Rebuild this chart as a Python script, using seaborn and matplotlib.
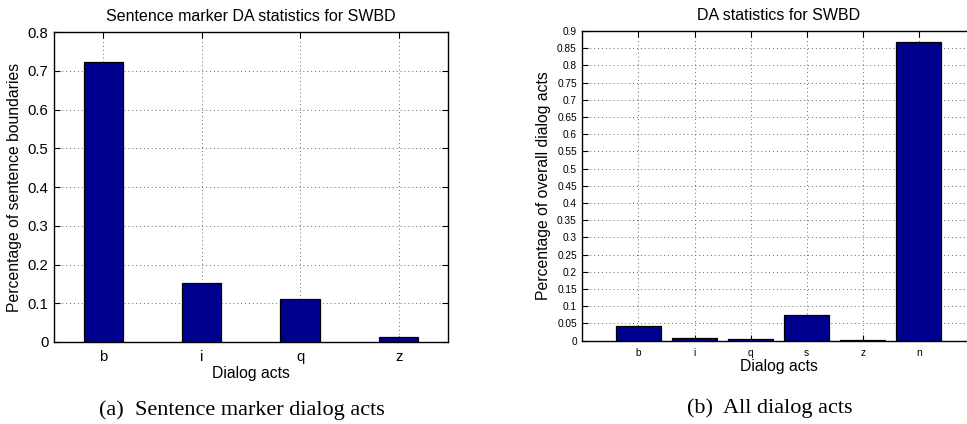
import matplotlib
matplotlib.use("Agg")
import matplotlib.pyplot as plt
import seaborn as sns
import pandas as pd
from matplotlib.ticker import FuncFormatter, MultipleLocator

# Sentence-marker dialog acts (share of sentence boundaries)
marker_acts = ["b", "i", "q", "z"]
marker_share = [0.723, 0.152, 0.110, 0.014]

# All dialog acts (share of overall dialog acts)
all_acts = ["b", "i", "q", "s", "z", "n"]
all_share = [0.043, 0.009, 0.006, 0.076, 0.001, 0.867]

BAR_COLOR = "#00008F"

sns.set_theme(style="white")
plt.rcParams["font.family"] = ["Liberation Sans", "DejaVu Sans"]
plt.rcParams["text.color"] = "black"
plt.rcParams["axes.labelcolor"] = "black"
plt.rcParams["xtick.color"] = "black"
plt.rcParams["ytick.color"] = "black"

fig = plt.figure(figsize=(9.67, 4.24), dpi=100)
ax1 = fig.add_axes([0.0558, 0.1934, 0.4074, 0.7311])
ax2 = fig.add_axes([0.6022, 0.1965, 0.4061, 0.7304])

df1 = pd.DataFrame({"act": marker_acts, "share": marker_share})
df2 = pd.DataFrame({"act": all_acts, "share": all_share})

sns.barplot(data=df1, x="act", y="share", order=marker_acts, color=BAR_COLOR,
            saturation=1, width=0.4, edgecolor="black", linewidth=0.9, ax=ax1, zorder=3)
sns.barplot(data=df2, x="act", y="share", order=all_acts, color=BAR_COLOR,
            saturation=1, width=0.8, edgecolor="black", linewidth=0.9, ax=ax2, zorder=3)

fmt = FuncFormatter(lambda v, _: f"{round(v, 4):g}")


def style(ax, xlim, ymax, ystep, tick_size, title, ylabel):
    ax.set_xlim(*xlim)
    ax.set_ylim(0, ymax)
    ax.yaxis.set_major_locator(MultipleLocator(ystep))
    ax.yaxis.set_major_formatter(fmt)
    ax.grid(True, which="major", color="#666666", linestyle=(0, (1, 3)),
            linewidth=0.7, zorder=0)
    ax.set_axisbelow(True)
    for s in ax.spines.values():
        s.set_visible(True)
        s.set_color("black")
        s.set_linewidth(1.0)
    ax.tick_params(direction="in", length=4, width=0.8, colors="black",
                   top=True, right=True, left=True, bottom=True,
                   labelsize=tick_size, pad=4)
    ax.set_title(title, fontsize=11.5, pad=8, color="black")
    ax.set_xlabel("Dialog acts", fontsize=11.3, labelpad=1, color="black")
    ax.set_ylabel(ylabel, fontsize=11.3, labelpad=4, color="black")


style(ax1, (-0.5, 3.5), 0.8, 0.1, 10.7,
      "Sentence marker DA statistics for SWBD",
      "Percentage of sentence boundaries")
style(ax2, (-1, 6), 0.9, 0.05, 7.3,
      "DA statistics for SWBD",
      "Percentage of overall dialog acts")
ax1.tick_params(axis="x", pad=6)
ax2.tick_params(axis="x", pad=5)

fig.text(0.25, 0.033, "(a)  Sentence marker dialog acts", ha="center", va="center",
         fontsize=16, color="black", family=["Liberation Serif", "DejaVu Serif"])
fig.text(0.796, 0.037, "(b)  All dialog acts", ha="center", va="center",
         fontsize=16, color="black", family=["Liberation Serif", "DejaVu Serif"])

fig.savefig("out.png", dpi=100)
